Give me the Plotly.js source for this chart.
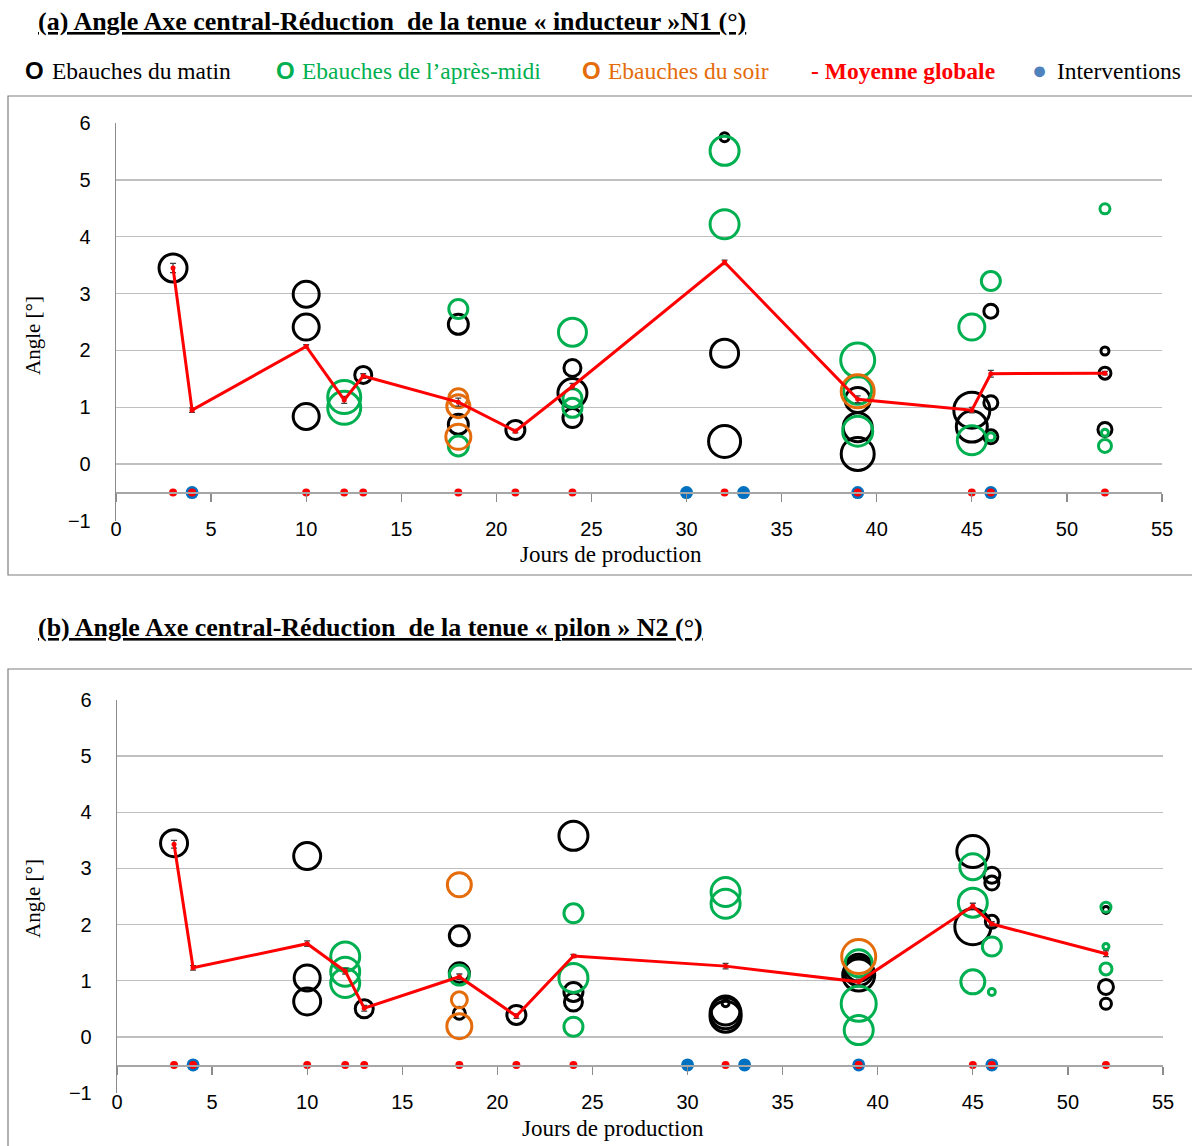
<!DOCTYPE html>
<html>
<head>
<meta charset="utf-8">
<script src="https://cdn.plot.ly/plotly-3.0.1.min.js"></script>
<style>
  html, body { margin: 0; padding: 0; background: #ffffff; }
  #chart { width: 1192px; height: 1146px; }
</style>
</head>
<body>
<div id="chart"></div>
<script>
// ---------- DATA ----------
const titleA = "(a) Angle Axe central-Réduction  de la tenue « inducteur »N1 (°)";
const titleB = "(b) Angle Axe central-Réduction  de la tenue « pilon » N2 (°)";
const xTitle = "Jours de production";
const yTitle = "Angle [°]";
const legendLabels = ["Ebauches du matin", "Ebauches de l\u2019après-midi", "Ebauches du soir", "- Moyenne globale", "Interventions"];

// Panel (a) – inducteur N1
const matinA_x = [3, 10, 10, 10, 13, 18, 18, 21, 24, 24, 24, 32, 32, 32, 39, 39, 39, 45, 45, 46, 46, 46, 52, 52, 52];
const matinA_y = [3.45, 2.99, 2.41, 0.84, 1.57, 2.46, 0.70, 0.60, 1.69, 1.25, 0.81, 5.75, 1.95, 0.40, 1.13, 0.65, 0.18, 0.95, 0.66, 2.69, 1.08, 0.48, 1.99, 1.60, 0.61];
const matinA_s = [31, 29, 29, 29, 20, 23, 23, 22, 20, 32, 22, 12, 31, 35, 28, 32, 36, 39, 34, 17, 17, 17, 11, 15, 17];

const apremA_x = [12, 12, 18, 18, 24, 24, 24, 32, 32, 39, 39, 39, 45, 45, 46, 46, 52, 52, 52];
const apremA_y = [1.18, 0.99, 2.73, 0.32, 2.32, 1.16, 0.99, 5.51, 4.22, 1.83, 1.30, 0.58, 2.41, 0.42, 3.22, 0.48, 4.49, 0.55, 0.32];
const apremA_s = [36, 36, 22, 23, 31, 22, 22, 32, 32, 37, 31, 33, 29, 32, 22, 11, 13, 10, 16];

const soirA_x = [18, 18, 18, 39];
const soirA_y = [1.16, 1.02, 0.48, 1.28];
const soirA_s = [22, 26, 28, 36];

// Panel (b) – pilon N2
const matinB_x = [3, 10, 10, 10, 13, 18, 18, 18, 21, 24, 24, 24, 32, 32, 32, 32, 39, 39, 39, 45, 45, 46, 46, 46, 52, 52, 52];
const matinB_y = [3.45, 3.22, 1.05, 0.63, 0.50, 1.80, 1.14, 0.42, 0.39, 3.58, 0.80, 0.62, 0.60, 0.47, 0.42, 0.36, 1.23, 1.17, 1.10, 3.30, 1.96, 2.88, 2.74, 2.05, 2.26, 0.89, 0.59];
const matinB_s = [30, 30, 29, 30, 21, 23, 23, 15, 22, 32, 22, 21, 10, 32, 34, 34, 30, 32, 35, 35, 39, 19, 17, 16, 10, 18, 14];

const apremB_x = [12, 12, 12, 18, 24, 24, 24, 32, 32, 39, 39, 39, 45, 45, 45, 46, 46, 52, 52, 52];
const apremB_y = [1.43, 1.16, 0.96, 1.10, 2.20, 1.05, 0.18, 2.58, 2.37, 1.31, 0.59, 0.12, 3.03, 2.39, 0.98, 1.61, 0.80, 2.31, 1.61, 1.21];
const apremB_s = [32, 32, 32, 23, 22, 32, 22, 32, 32, 30, 38, 32, 29, 32, 27, 22, 10, 13, 9, 15];

const soirB_x = [18, 18, 18, 39];
const soirB_y = [2.71, 0.66, 0.19, 1.43];
const soirB_s = [27, 19, 28, 37];

// Global mean per production day
const meanDays = [3, 4, 10, 12, 13, 18, 21, 24, 32, 39, 45, 46, 52];
const meanA = [3.45, 0.95, 2.07, 1.13, 1.55, 1.09, 0.58, 1.37, 3.55, 1.14, 0.95, 1.59, 1.60];
const errA  = [0.08, 0.04, 0.03, 0.06, 0.04, 0.07, 0.03, 0.05, 0.04, 0.06, 0.05, 0.06, 0.03];
const meanB = [3.43, 1.23, 1.66, 1.17, 0.51, 1.07, 0.37, 1.44, 1.26, 0.98, 2.33, 2.01, 1.48];
const errB  = [0.07, 0.04, 0.05, 0.05, 0.05, 0.05, 0.04, 0.03, 0.05, 0.05, 0.05, 0.04, 0.05];

// Marker row at -0.5
const rowLevel = -0.5;
const sampleDays = [3, 4, 10, 12, 13, 18, 21, 24, 32, 39, 45, 46, 52];
const interventionDays = [4, 30, 33, 39, 46];

// ---------- STYLE ----------
const C_BLACK = "#000000", C_GREEN = "#00B050", C_ORANGE = "#E46C0A", C_RED = "#FF0000", C_BLUE = "#0070C0";
const SERIF = "Liberation Serif, DejaVu Serif, serif";
const SANS = "Liberation Sans, Arial, sans-serif";
const LW = 3;

function bubbles(x, y, s, color, xa, ya) {
  return {
    type: "scatter", mode: "markers", x: x, y: y, xaxis: xa, yaxis: ya,
    marker: { symbol: "circle-open", size: s.map(v => v - LW), color: color, opacity: 1,
              line: { width: LW, color: color } },
    showlegend: false, hoverinfo: "x+y", cliponaxis: false
  };
}
function meanTrace(y, e, xa, ya) {
  return {
    type: "scatter", mode: "lines+markers", x: meanDays, y: y, xaxis: xa, yaxis: ya,
    line: { color: C_RED, width: 3 },
    marker: { color: C_RED, size: 5, opacity: 1 },
    error_y: { type: "data", array: e, visible: true, color: "#404040", thickness: 1.3, width: 3 },
    showlegend: false
  };
}
function rowTraces(xa, ya) {
  return [
    { type: "scatter", mode: "markers", x: interventionDays, y: interventionDays.map(() => rowLevel),
      xaxis: xa, yaxis: ya, marker: { color: C_BLUE, size: 13, opacity: 1 }, showlegend: false, cliponaxis: false },
    { type: "scatter", mode: "markers", x: sampleDays, y: sampleDays.map(() => rowLevel),
      xaxis: xa, yaxis: ya, marker: { color: C_RED, size: 8, opacity: 1 }, showlegend: false, cliponaxis: false }
  ];
}

const traces = [
  bubbles(matinA_x, matinA_y, matinA_s, C_BLACK, "x", "y"),
  bubbles(apremA_x, apremA_y, apremA_s, C_GREEN, "x", "y"),
  bubbles(soirA_x, soirA_y, soirA_s, C_ORANGE, "x", "y"),
  ...rowTraces("x", "y"),
  meanTrace(meanA, errA, "x", "y"),
  bubbles(matinB_x, matinB_y, matinB_s, C_BLACK, "x2", "y2"),
  bubbles(apremB_x, apremB_y, apremB_s, C_GREEN, "x2", "y2"),
  bubbles(soirB_x, soirB_y, soirB_s, C_ORANGE, "x2", "y2"),
  ...rowTraces("x2", "y2"),
  meanTrace(meanB, errB, "x2", "y2")
];

const W = 1192, H = 1146;
const px = v => v / W;
const py = v => 1 - v / H;

function xAxis(d0, d1, pos) {
  return {
    domain: [px(d0), px(d1)], anchor: "free", position: pos,
    range: [0, 55], tick0: 0, dtick: 5, ticks: "outside", ticklen: 8, tickwidth: 1.3, tickcolor: "#8c8c8c",
    showline: true, linecolor: "#a6a6a6", linewidth: 1.5, showgrid: false, zeroline: false,
    tickfont: { family: SANS, size: 20, color: "#000" }, ticklabelstandoff: 10, fixedrange: true
  };
}
function yAxis(top, bottom, xa) {
  return {
    domain: [py(bottom), py(top)], anchor: xa,
    range: [-1, 6], tick0: 0, dtick: 1, showgrid: true, gridcolor: "#bfbfbf", gridwidth: 1.5,
    zeroline: false, showline: true, linecolor: "#8c8c8c", linewidth: 1.3, ticks: "",
    tickfont: { family: SANS, size: 20, color: "#000" }, ticklabelstandoff: 20, fixedrange: true
  };
}

const ann = [];
function txt(text, x, y, opts) {
  ann.push(Object.assign({ text: text, x: px(x), y: py(y), xref: "paper", yref: "paper",
    showarrow: false, xanchor: "left", yanchor: "middle",
    font: { family: SERIF, size: 22, color: "#000" } }, opts || {}));
}
// Panel titles
txt("<b><u>" + titleA + "</u></b>", 36, 21, { font: { family: SERIF, size: 26, color: "#000" } });
txt("<b><u>" + titleB + "</u></b>", 36, 627, { font: { family: SERIF, size: 26, color: "#000" } });
// Legend row
txt("<b>O</b>", 23, 71, { font: { family: SANS, size: 24, color: C_BLACK } });
txt(legendLabels[0], 50, 71, { font: { family: SERIF, size: 23.5, color: "#000" } });
txt("<b>O</b>", 274, 71, { font: { family: SANS, size: 24, color: C_GREEN } });
txt(legendLabels[1], 300, 71, { font: { family: SERIF, size: 23.5, color: C_GREEN } });
txt("<b>O</b>", 580, 71, { font: { family: SANS, size: 24, color: C_ORANGE } });
txt(legendLabels[2], 606, 71, { font: { family: SERIF, size: 23.5, color: C_ORANGE } });
txt("<b>" + legendLabels[3] + "</b>", 809, 71, { font: { family: SERIF, size: 23.5, color: C_RED } });
txt("\u25CF", 1030, 70, { font: { family: SANS, size: 25, color: "#4F81BD" } });
txt(legendLabels[4], 1055, 71, { font: { family: SERIF, size: 23.5, color: "#000" } });
// Axis titles
txt(xTitle, 611, 555, { xanchor: "center", font: { family: SERIF, size: 23, color: "#000" } });
txt(xTitle, 613, 1128, { xanchor: "center", font: { family: SERIF, size: 23, color: "#000" } });
txt(yTitle, 33, 336, { xanchor: "center", textangle: -90, font: { family: SERIF, size: 21, color: "#000" } });
txt(yTitle, 33, 899, { xanchor: "center", textangle: -90, font: { family: SERIF, size: 21, color: "#000" } });

const shapes = [
  { type: "rect", xref: "paper", yref: "paper", x0: px(8), x1: px(1195), y0: py(575), y1: py(96),
    line: { color: "#7f7f7f", width: 1.2 }, fillcolor: "rgba(0,0,0,0)" },
  { type: "rect", xref: "paper", yref: "paper", x0: px(8), x1: px(1195), y0: py(1150), y1: py(669),
    line: { color: "#7f7f7f", width: 1.2 }, fillcolor: "rgba(0,0,0,0)" }
];

const layout = {
  width: W, height: H, margin: { l: 0, r: 0, t: 0, b: 0 },
  paper_bgcolor: "#ffffff", plot_bgcolor: "rgba(0,0,0,0)",
  showlegend: false,
  xaxis: xAxis(116, 1162, py(492)),
  yaxis: yAxis(123, 521, "x"),
  xaxis2: xAxis(117, 1163, py(1065)),
  yaxis2: yAxis(700, 1093, "x2"),
  annotations: ann,
  shapes: shapes
};

Plotly.newPlot("chart", traces, layout, { staticPlot: true, displayModeBar: false });
</script>
</body>
</html>
